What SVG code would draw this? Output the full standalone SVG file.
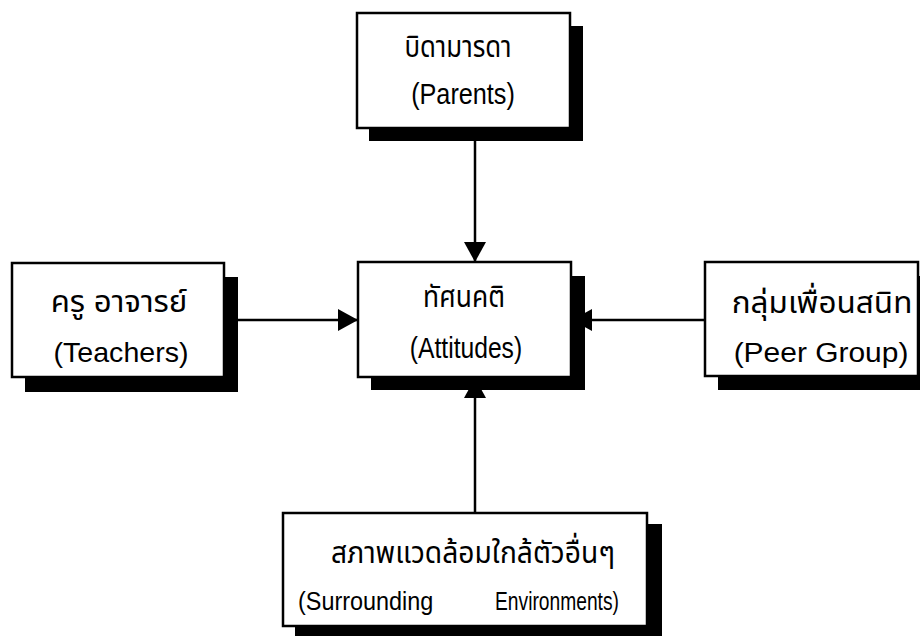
<svg xmlns="http://www.w3.org/2000/svg" width="920" height="636" viewBox="0 0 920 636">
<style>
.box{fill:#fff;stroke:#000;stroke-width:2.5}
.sh{fill:#000}
.th{font-family:"Liberation Sans","Noto Sans Thai","Tlwg Typo",sans-serif;font-size:30px;fill:#000;text-anchor:middle}
.en{font-family:"Liberation Sans",Arial,sans-serif;font-size:28px;fill:#000;text-anchor:middle}
.enc{font-family:"Liberation Sans",Arial,sans-serif;font-size:29px;fill:#000;text-anchor:middle}
.enb{font-family:"Liberation Sans",Arial,sans-serif;font-size:26px;fill:#000}
.con{stroke:#000;stroke-width:2.5;fill:none;marker-end:url(#ah)}
</style>
<defs>
<marker id="ah" markerUnits="userSpaceOnUse" markerWidth="20" markerHeight="22" refX="20" refY="11" orient="auto">
<path d="M0,0 L20,11 L0,22 z" fill="#000"/>
</marker>
</defs>
<rect width="920" height="636" fill="#fff"/>
<g id="connectors">
<line class="con" x1="475" y1="128" x2="475" y2="262"/>
<line class="con" x1="224" y1="320" x2="358" y2="320"/>
<line class="con" x1="705" y1="320" x2="572" y2="320"/>
<line class="con" x1="475" y1="513" x2="475" y2="378"/>
</g>
<g id="parents">
<rect class="sh" x="369" y="26" width="214" height="115"/>
<rect class="box" x="357" y="13" width="213" height="115"/>
<text class="th" transform="translate(458,57) scale(0.86,1)">บิดามารดา</text>
<text class="enc" transform="translate(463,104) scale(0.87,1)">(Parents)</text>
</g>
<g id="teachers">
<rect class="sh" x="25" y="277" width="213" height="115"/>
<rect class="box" x="12" y="263" width="212" height="114"/>
<text class="th" transform="translate(119,312) scale(1.04,1)">ครู อาจารย์</text>
<text class="en" transform="translate(121,362) scale(1.02,1)">(Teachers)</text>
</g>
<g id="attitudes">
<rect class="sh" x="371" y="276" width="214" height="114"/>
<rect class="box" x="358" y="262" width="213" height="115"/>
<text class="th" transform="translate(464,307) scale(0.88,1)">ทัศนคติ</text>
<text class="enc" transform="translate(466,358) scale(0.85,1)">(Attitudes)</text>
</g>
<g id="peer">
<rect class="sh" x="718" y="276" width="214" height="114"/>
<rect class="box" x="705" y="262" width="213" height="114"/>
<text class="th" transform="translate(822,313) scale(1.05,1)">กลุ่มเพื่อนสนิท</text>
<text class="en" transform="translate(821,362) scale(1.07,1)">(Peer Group)</text>
</g>
<g id="environments">
<rect class="sh" x="295" y="524" width="367" height="120"/>
<rect class="box" x="283" y="513" width="364" height="113"/>
<text class="th" transform="translate(473,563) scale(0.94,1)">สภาพแวดล้อมใกล้ตัวอื่นๆ</text>
<text class="enb" transform="translate(298,610) scale(0.9,1)">(Surrounding</text>
<text class="enb" transform="translate(495,610) scale(0.74,1)">Environments)</text>
</g>
</svg>
